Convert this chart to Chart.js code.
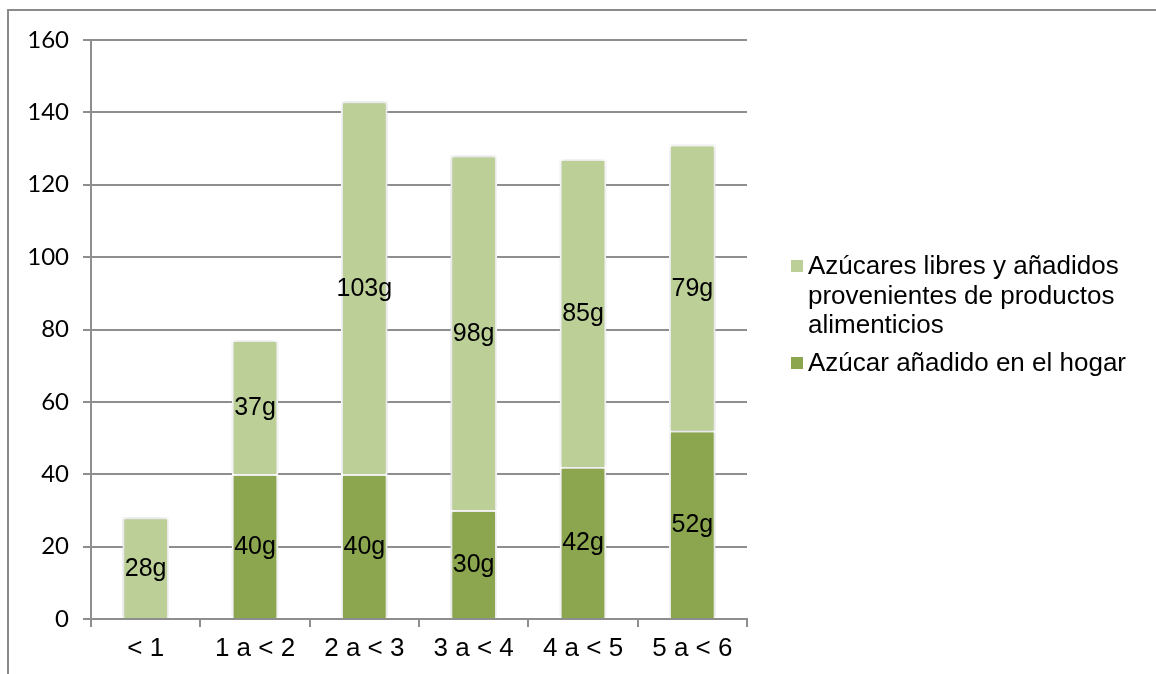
<!DOCTYPE html>
<html>
<head>
<meta charset="utf-8">
<script src="https://cdn.jsdelivr.net/npm/chart.js@4/dist/chart.umd.min.js"></script>
<style>
  html, body { margin: 0; padding: 0; background: #ffffff; }
  #wrap { position: relative; width: 1156px; height: 674px; }
</style>
</head>
<body>
<div id="wrap"><canvas id="chart" width="1156" height="674"></canvas></div>
<script>
// Age groups (years)
const categories = ['< 1', '1 a < 2', '2 a < 3', '3 a < 4', '4 a < 5', '5 a < 6'];
// Grams of sugar added at home
const azucarHogar = [0, 40, 40, 30, 42, 52];
// Grams of free and added sugars coming from food products
const azucarProductos = [28, 37, 103, 98, 85, 79];
// Value axis
const yMin = 0;
const yMax = 160;
const yStep = 20;
// Legend texts, one entry per series (lines as drawn)
const legendProductos = ['Azúcares libres y añadidos', 'provenientes de productos', 'alimenticios'];
const legendHogar = ['Azúcar añadido en el hogar'];

const colorHogar = '#8ba64e';
const colorProductos = '#bbcf97';
const gridColor = '#8e8e8e';

// Outer frame lines (top and left)
const framePlugin = {
  id: 'frame',
  beforeDraw(chart) {
    const ctx = chart.ctx;
    ctx.save();
    ctx.strokeStyle = '#8a8a8a';
    ctx.lineWidth = 2;
    ctx.beginPath();
    ctx.moveTo(8, 674);
    ctx.lineTo(8, 10);
    ctx.lineTo(1156, 10);
    ctx.stroke();
    ctx.restore();
  }
};

// Soft shadow behind the bars
const shadowPlugin = {
  id: 'barShadow',
  beforeDatasetsDraw(chart) {
    const ctx = chart.ctx;
    ctx.save();
    ctx.shadowColor = 'rgba(0,0,0,0.22)';
    ctx.shadowBlur = 4;
    ctx.shadowOffsetX = 0;
    ctx.shadowOffsetY = 0;
  },
  afterDatasetsDraw(chart) {
    chart.ctx.restore();
  }
};

// Value labels centred in each segment
const valueLabelPlugin = {
  id: 'valueLabels',
  afterDatasetsDraw(chart) {
    const ctx = chart.ctx;
    ctx.save();
    ctx.font = '25px "Liberation Sans", Arial, sans-serif';
    ctx.fillStyle = '#000000';
    ctx.textAlign = 'center';
    ctx.textBaseline = 'middle';
    chart.data.datasets.forEach((ds, di) => {
      const meta = chart.getDatasetMeta(di);
      meta.data.forEach((bar, i) => {
        const v = ds.data[i];
        if (!v) return;
        const yc = (bar.y + bar.base) / 2;
        ctx.fillText(v + 'g', bar.x, yc + 1);
      });
    });
    ctx.restore();
  }
};

// Legend on the right, with the long entry wrapped over three lines
const legendPlugin = {
  id: 'sideLegend',
  afterDraw(chart) {
    const ctx = chart.ctx;
    ctx.save();
    ctx.font = '26px "Liberation Sans", Arial, sans-serif';
    ctx.fillStyle = '#000000';
    ctx.textAlign = 'left';
    ctx.textBaseline = 'alphabetic';
    const entries = [
      { color: colorProductos, lines: legendProductos, top: 260 },
      { color: colorHogar, lines: legendHogar, top: 357 }
    ];
    const lineH = 29.5;
    entries.forEach(e => {
      ctx.fillStyle = e.color;
      ctx.fillRect(791, e.top, 12, 12);
      ctx.fillStyle = '#000000';
      e.lines.forEach((t, k) => {
        ctx.fillText(t, 808, e.top + 14 + k * lineH);
      });
    });
    ctx.restore();
  }
};

new Chart(document.getElementById('chart'), {
  type: 'bar',
  data: {
    labels: categories,
    datasets: [
      {
        label: legendHogar.join(' '),
        data: azucarHogar,
        backgroundColor: colorHogar,
        borderColor: '#ffffff',
        borderWidth: 2,
        borderSkipped: 'start',
        barThickness: 46
      },
      {
        label: legendProductos.join(' '),
        data: azucarProductos,
        backgroundColor: colorProductos,
        borderColor: '#ffffff',
        borderWidth: 2,
        borderSkipped: 'start',
        barThickness: 46
      }
    ]
  },
  options: {
    responsive: false,
    animation: false,
    devicePixelRatio: 1,
    layout: { padding: { top: 40, right: 409, left: 0, bottom: 0 } },
    plugins: {
      legend: { display: false },
      tooltip: { enabled: false }
    },
    scales: {
      x: {
        stacked: true,
        grid: {
          offset: true,
          drawOnChartArea: false,
          drawTicks: true,
          tickLength: 8,
          color: gridColor,
          lineWidth: 2
        },
        border: { color: gridColor, width: 2 },
        ticks: {
          color: '#000000',
          font: { family: '"Liberation Sans", Arial, sans-serif', size: 26 },
          padding: 6,
          maxRotation: 0
        },
        afterFit(scale) { scale.height = 55; }
      },
      y: {
        stacked: true,
        min: yMin,
        max: yMax,
        ticks: {
          stepSize: yStep,
          color: '#000000',
          font: { family: 'Lato, "Liberation Sans", sans-serif', size: 24 },
          padding: 14
        },
        grid: {
          color: gridColor,
          lineWidth: 2,
          tickLength: 8,
          drawTicks: true
        },
        border: { color: gridColor, width: 2 },
        afterFit(scale) { scale.width = 91; }
      }
    }
  },
  plugins: [framePlugin, shadowPlugin, valueLabelPlugin, legendPlugin]
});
</script>
</body>
</html>
